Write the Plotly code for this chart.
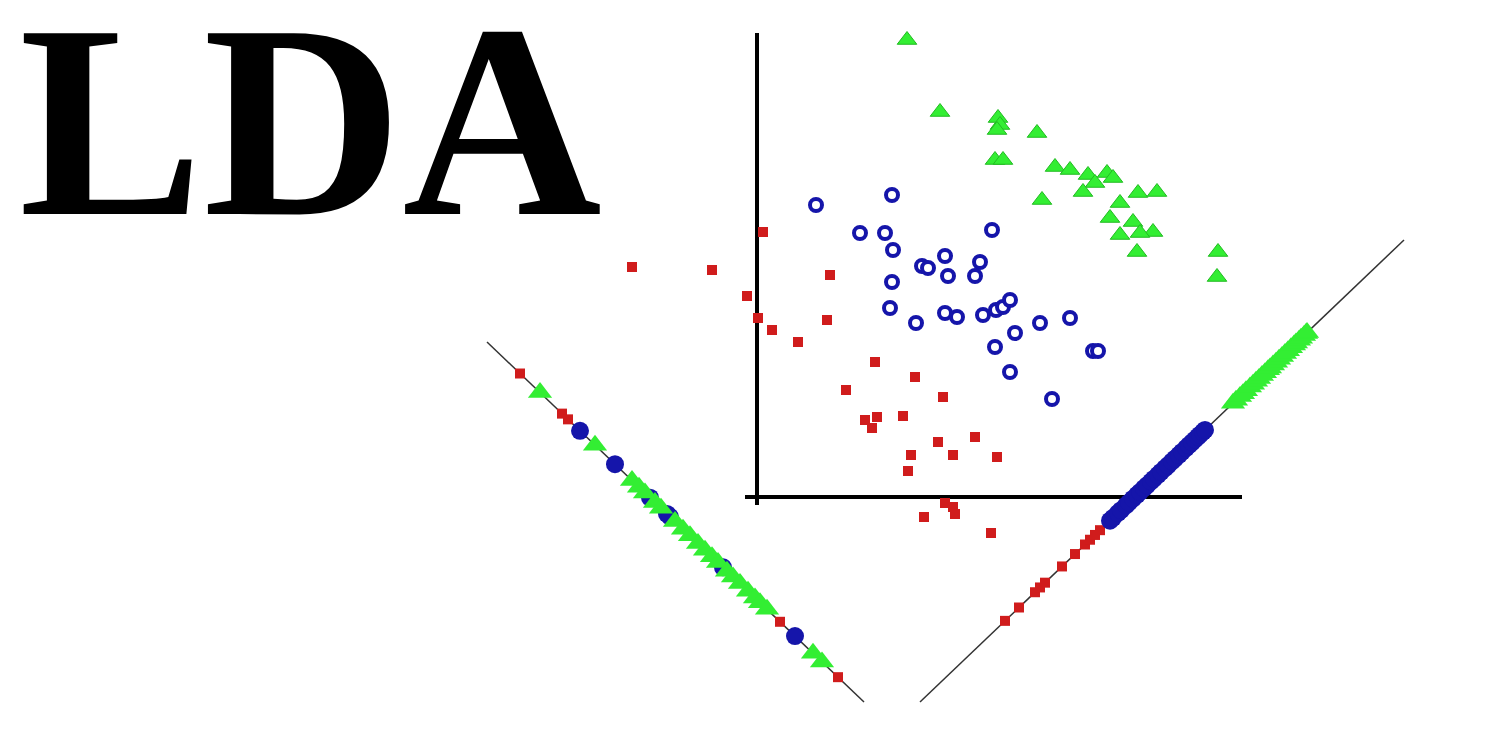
import plotly.graph_objects as go

# Main scatter data (data units: origin at the axis corner)
green_x = [15.0, 18.3, 24.1, 24.3, 24.0, 28.0, 23.8, 24.6, 29.8, 31.3, 33.1, 35.0, 35.6, 33.8,
           32.6, 28.5, 38.1, 40.0, 36.3, 35.3, 37.6, 39.6, 38.3, 36.3, 38.0, 46.1, 46.0]
green_y = [45.7, 38.5, 37.9, 37.2, 36.7, 36.4, 33.7, 33.7, 33.0, 32.7, 32.2, 32.4, 31.9, 31.4,
           30.5, 29.7, 30.4, 30.5, 29.4, 27.9, 27.5, 26.5, 26.4, 26.2, 24.5, 24.5, 22.0]

blue_x = [5.9, 13.5, 10.3, 12.8, 13.6, 23.5, 16.5, 17.1, 18.8, 22.3, 19.1, 21.8, 13.5, 13.3, 15.9,
          18.8, 20.0, 22.6, 23.9, 24.6, 25.3, 25.8, 28.3, 31.3, 23.8, 25.3, 29.5, 33.6, 34.1]
blue_y = [29.2, 30.2, 26.4, 26.4, 24.7, 26.7, 23.1, 22.9, 24.1, 23.5, 22.1, 22.1, 21.5, 18.9, 17.4,
          18.4, 18.0, 18.2, 18.7, 19.0, 19.7, 16.4, 17.4, 17.9, 15.0, 12.5, 9.8, 14.6, 14.6]

red_x = [0.6, -12.5, -4.5, 7.3, -1.0, 0.1, 1.5, 7.0, 4.1, 11.8, 15.8, 8.9, 18.6, 10.8, 12.0, 11.5,
         14.6, 18.1, 21.8, 15.4, 19.6, 24.0, 15.1, 18.8, 19.6, 19.8, 16.7, 23.4]
red_y = [26.5, 23.0, 22.7, 22.2, 20.1, 17.9, 16.7, 17.7, 15.5, 13.5, 12.0, 10.7, 10.0, 7.7, 8.0, 6.9,
         8.1, 5.5, 6.0, 4.2, 4.2, 4.0, 2.6, -0.6, -1.0, -1.7, -2.0, -3.6]

# Projection lines (end points)
left_line_x = [-27.0, 10.7]
left_line_y = [15.5, -20.5]
right_line_x = [16.3, 64.7]
right_line_y = [-20.5, 25.7]

# Positions of projected points along each line (x position on the line)
left_red = [-23.7, -19.5, -18.9, 2.3, 8.1]
left_green = [-21.7, -16.2, -12.5, -11.8, -11.2, -10.2, -9.6, -8.2, -7.4, -6.7, -5.9, -5.2, -4.5,
              -3.9, -3.0, -2.4, -1.7, -0.9, -0.2, 0.3, 1.0, 5.6, 6.5]
left_blue = [-17.7, -14.2, -10.7, -9.0, -8.7, -3.4, 3.8]

right_red = [24.8, 26.2, 27.8, 28.3, 28.8, 30.5, 31.8, 32.8, 33.3, 33.8, 34.3]
right_blue = [35.3, 35.6, 36.1, 36.4, 36.9, 37.2, 37.6, 38.0, 38.3, 38.7, 39.0, 39.4, 39.7, 40.1,
              40.4, 40.8, 41.1, 41.5, 41.8, 42.2, 42.5, 42.9, 43.2, 43.5, 43.8, 44.1, 44.3, 44.6, 44.8]
right_green = [47.6, 47.9, 48.3, 48.6, 48.9, 49.3, 49.6, 49.9, 50.2, 50.5, 50.8, 51.1, 51.3, 51.6,
               51.9, 52.2, 52.5, 52.8, 53.1, 53.4, 53.7, 53.9, 54.2, 54.4, 54.7, 54.9, 55.0]

# Axis lines of the inner plot
yaxis_line_x = [0, 0]
yaxis_line_y = [-0.8, 46.4]
xaxis_line_x = [-1.2, 48.5]
xaxis_line_y = [0, 0]

GREEN = "#33ee33"
GREEN_EDGE = "#22bb22"
BLUE = "#1515aa"
RED = "#d01c1c"


def on_line(xs, lx, ly):
    slope = (ly[1] - ly[0]) / (lx[1] - lx[0])
    return [ly[0] + (x - lx[0]) * slope for x in xs]


fig = go.Figure()

# inner axes
fig.add_trace(go.Scatter(x=yaxis_line_x, y=yaxis_line_y, mode="lines",
                         line=dict(color="black", width=4), hoverinfo="skip"))
fig.add_trace(go.Scatter(x=xaxis_line_x, y=xaxis_line_y, mode="lines",
                         line=dict(color="black", width=4), hoverinfo="skip"))
# projection lines
for lx, ly in [(left_line_x, left_line_y), (right_line_x, right_line_y)]:
    fig.add_trace(go.Scatter(x=lx, y=ly, mode="lines",
                             line=dict(color="#333333", width=1.5), hoverinfo="skip"))

green_marker = dict(symbol="triangle-up", size=17, color=GREEN, line=dict(color=GREEN_EDGE, width=1))
green_band = dict(symbol="triangle-up", size=21, color=GREEN, line=dict(width=0))
red_marker = dict(symbol="square", size=10, color=RED, line=dict(width=0))
blue_open = dict(symbol="circle", size=12, color="white", line=dict(color=BLUE, width=4))
blue_solid = dict(symbol="circle", size=18, color=BLUE, line=dict(width=0))

# main scatter
fig.add_trace(go.Scatter(x=red_x, y=red_y, mode="markers", marker=red_marker))
fig.add_trace(go.Scatter(x=blue_x, y=blue_y, mode="markers", marker=blue_open))
fig.add_trace(go.Scatter(x=green_x, y=green_y, mode="markers", marker=green_marker))

# left projection
fig.add_trace(go.Scatter(x=left_blue, y=on_line(left_blue, left_line_x, left_line_y),
                         mode="markers", marker=blue_solid))
fig.add_trace(go.Scatter(x=left_green, y=on_line(left_green, left_line_x, left_line_y),
                         mode="markers", marker=green_band))
fig.add_trace(go.Scatter(x=left_red, y=on_line(left_red, left_line_x, left_line_y),
                         mode="markers", marker=red_marker))

# right projection
fig.add_trace(go.Scatter(x=right_red, y=on_line(right_red, right_line_x, right_line_y),
                         mode="markers", marker=red_marker))
fig.add_trace(go.Scatter(x=right_blue, y=on_line(right_blue, right_line_x, right_line_y),
                         mode="markers", marker=blue_solid))
fig.add_trace(go.Scatter(x=right_green, y=on_line(right_green, right_line_x, right_line_y),
                         mode="markers", marker=green_band))

fig.add_annotation(x=-44.7, y=1, xref="x", yref="paper", text="<b>LDA</b>", showarrow=False,
                   xanchor="center", yanchor="top", yshift=42,
                   font=dict(family="Liberation Serif", size=276, color="black"))

fig.update_layout(
    width=1494, height=745,
    margin=dict(l=0, r=0, t=0, b=0),
    paper_bgcolor="white", plot_bgcolor="white",
    showlegend=False,
    xaxis=dict(range=[-74.9, 74.5], visible=False, fixedrange=True),
    yaxis=dict(range=[-25.6, 48.9], visible=False, fixedrange=True),
)

fig.write_html("out.html")
